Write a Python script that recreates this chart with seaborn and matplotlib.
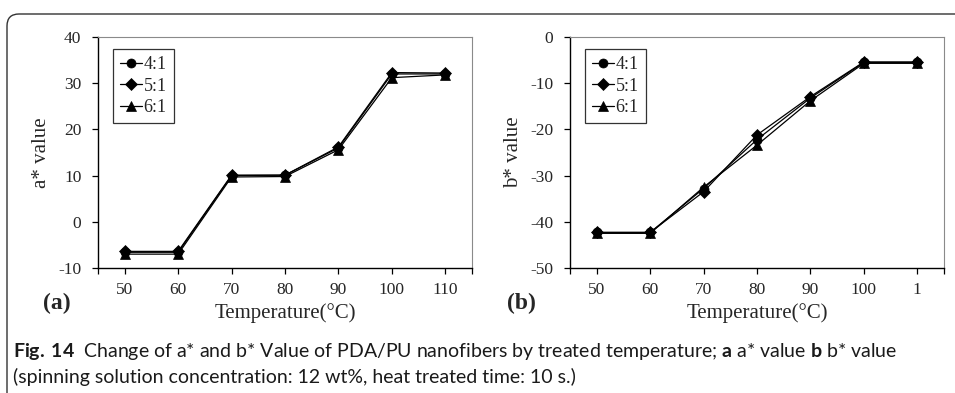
import matplotlib
matplotlib.use("Agg")
import matplotlib.pyplot as plt
import matplotlib.patches as mpatches
import matplotlib.transforms as mtransforms
import pandas as pd
import seaborn as sns

TEMPS = [50, 60, 70, 80, 90, 100, 110]
RATIOS = ["4:1", "5:1", "6:1"]
MARKERS = ["o", "D", "^"]

A_41 = [-6.6, -6.6, 10.0, 10.1, 16.0, 32.0, 32.0]
A_51 = [-6.4, -6.4, 10.1, 10.1, 16.2, 32.3, 32.2]
A_61 = [-7.0, -7.0, 9.7, 9.8, 15.6, 31.2, 31.8]

B_41 = [-42.3, -42.3, -32.8, -22.2, -13.2, -5.5, -5.5]
B_51 = [-42.3, -42.3, -33.5, -21.2, -12.9, -5.4, -5.4]
B_61 = [-42.5, -42.5, -32.5, -23.4, -13.8, -5.7, -5.7]

A_TICKS = [-10, 0, 10, 20, 30, 40]
B_TICKS = [-50, -40, -30, -20, -10, 0]
A_XLABELS = ["50", "60", "70", "80", "90", "100", "110"]
B_XLABELS = ["50", "60", "70", "80", "90", "100", "1"]

W, H = 955, 393


def long_frame(series, col):
    rows = []
    for ratio, vals in zip(RATIOS, series):
        for t, v in zip(TEMPS, vals):
            rows.append({"temp": t, col: v, "ratio": ratio})
    return pd.DataFrame(rows)


def draw_panel(ax, df, col, yticks, xlabels, ylabel):
    sns.lineplot(data=df, x="temp", y=col, hue="ratio", style="ratio",
                 markers=MARKERS, dashes=False, palette=["black"] * 3,
                 linewidth=0.9, markersize=6.5, markeredgecolor="black",
                 markeredgewidth=0.5, legend=False, ax=ax)
    ax.set_xlim(45, 115)
    ax.set_ylim(yticks[0], yticks[-1])
    ax.set_yticks(yticks)
    ax.set_xticks(TEMPS)
    ax.set_xticklabels(xlabels)
    ax.set_xticks([45, 115], minor=True)
    ax.tick_params(axis="both", which="both", direction="out", length=4,
                   width=0.9, color="black", labelsize=12.5)
    ax.tick_params(axis="y", pad=8)
    ax.tick_params(axis="x", pad=6)
    for side in ["left", "bottom"]:
        ax.spines[side].set_color("black")
        ax.spines[side].set_linewidth(1.0)
    for side in ["top", "right"]:
        ax.spines[side].set_visible(True)
        ax.spines[side].set_color("#8a8a8a")
        ax.spines[side].set_linewidth(0.8)
    ax.set_xlabel("Temperature(°C)", fontsize=15, labelpad=4)
    ax.set_ylabel(ylabel, fontsize=15, labelpad=5)
    ax.legend(ax.lines[:3], RATIOS, loc="upper left", bbox_to_anchor=(0.04, 0.948),
              borderaxespad=0, frameon=True, fancybox=False, edgecolor="black",
              fontsize=13, handlelength=1.2, handletextpad=0.1, labelspacing=0.25,
              borderpad=0.4)
    ax.get_legend().get_frame().set_linewidth(0.9)


def main():
    sns.set_style("ticks")
    plt.rcParams["font.family"] = ["Liberation Serif", "DejaVu Serif"]
    plt.rcParams["axes.unicode_minus"] = False
    plt.rcParams["mathtext.fontset"] = "custom"
    plt.rcParams["mathtext.rm"] = "Lato"
    plt.rcParams["mathtext.bf"] = "Lato:bold"

    fig = plt.figure(figsize=(W / 100, H / 100), dpi=100)
    ax_a = fig.add_axes([98 / W, (H - 268) / H, 374 / W, 231 / H])
    ax_b = fig.add_axes([570 / W, (H - 268) / H, 374 / W, 231 / H])

    df_a = long_frame([A_41, A_51, A_61], "a")
    df_b = long_frame([B_41, B_51, B_61], "b")
    draw_panel(ax_a, df_a, "a", A_TICKS, A_XLABELS, "a* value")
    draw_panel(ax_b, df_b, "b", B_TICKS, B_XLABELS, "b* value")

    fig.text(57 / W, 1 - 303 / H, "(a)", fontsize=17, fontweight="bold",
             ha="center", va="center")
    fig.text(521 / W, 1 - 303 / H, "(b)", fontsize=17, fontweight="bold",
             ha="center", va="center")

    # rounded frame around the figure, only top-left corner visible
    frame = mpatches.FancyBboxPatch((7, -60), 1100, H - 14 + 60,
                                    boxstyle="round,pad=0,rounding_size=12",
                                    transform=mtransforms.IdentityTransform(),
                                    facecolor="none", edgecolor="#333333",
                                    linewidth=1.0)
    fig.patches.append(frame)

    cap_font = ["Lato", "DejaVu Sans"]
    fig.text(13 / W, 1 - 351 / H,
             r"$\mathbf{Fig.\,14}$  Change of a* and b* Value of PDA/PU nanofibers by "
             r"treated temperature; $\mathbf{a}$ a* value $\mathbf{b}$ b* value",
             fontsize=14, family=cap_font, ha="left", va="center", color="#1a1a1a")
    fig.text(13 / W, 1 - 377 / H,
             "(spinning solution concentration: 12 wt%, heat treated time: 10 s.)",
             fontsize=14, family=cap_font, ha="left", va="center", color="#1a1a1a")

    fig.savefig("out.png", dpi=100)
    plt.close(fig)


if __name__ == "__main__":
    main()
